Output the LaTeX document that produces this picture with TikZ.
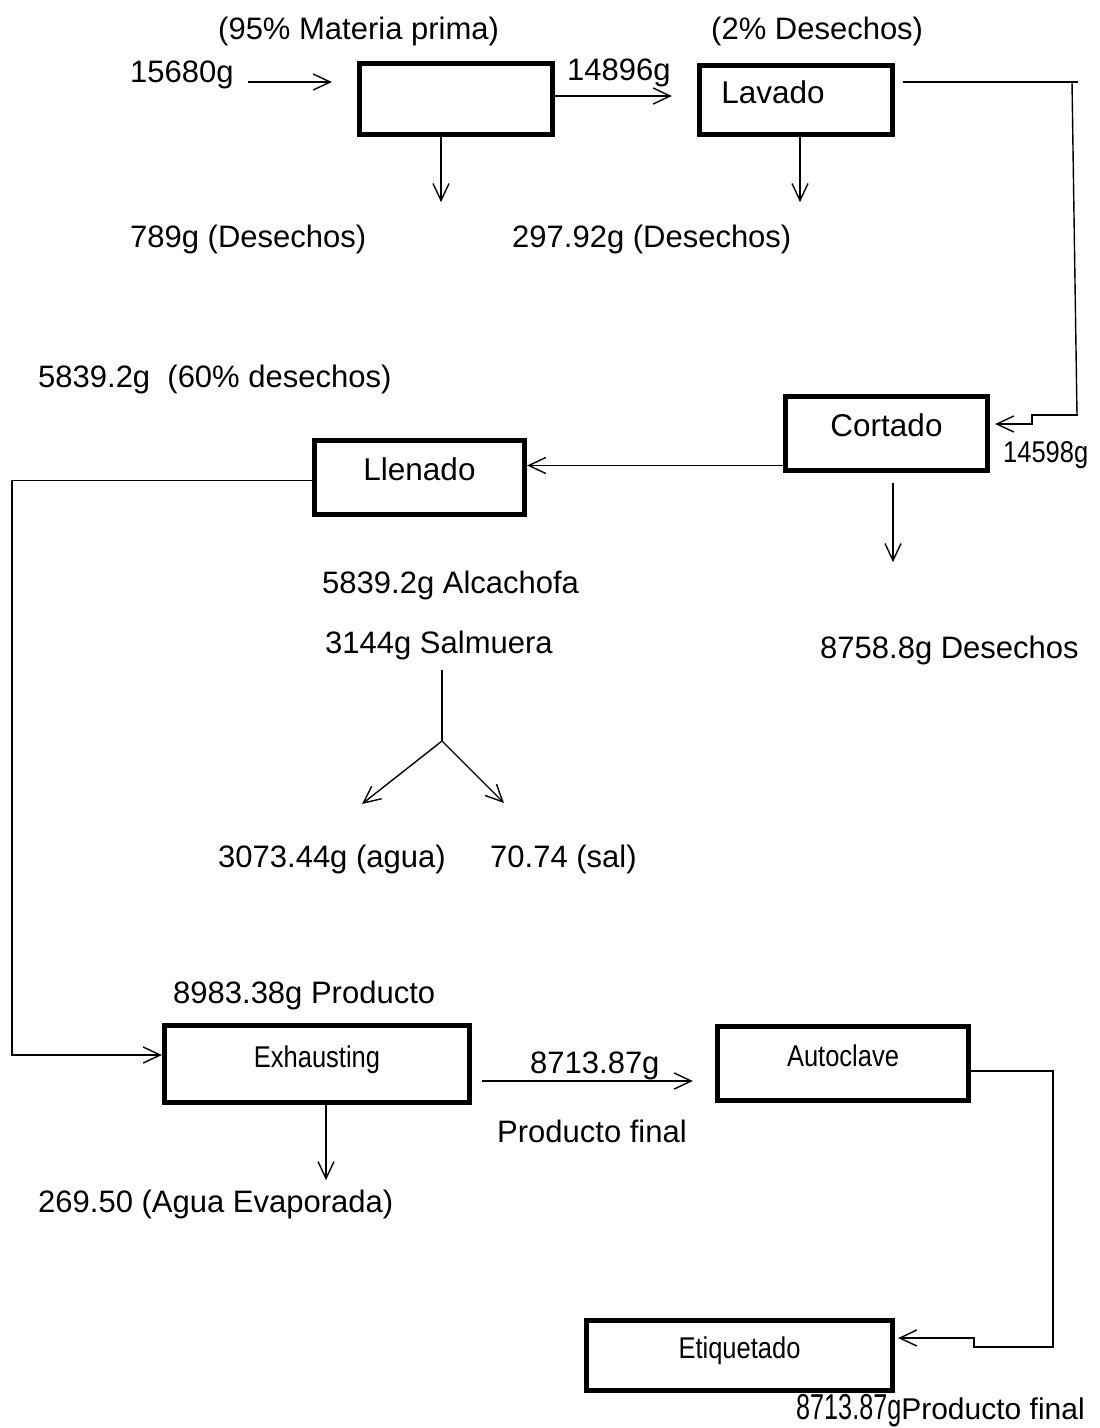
\documentclass[tikz,border=0pt]{standalone}
\usepackage{fontspec}
\setmainfont{Liberation Sans}
\newfontfamily\narrowfont[FakeStretch=0.85]{Liberation Sans}
\newfontfamily\tightfont[FakeStretch=0.7]{Liberation Sans}
\usetikzlibrary{arrows.meta,calc}

\begin{document}
\begin{tikzpicture}[x=1pt,y=-1pt,
  stage/.style={draw,line width=4.8pt,inner sep=0pt,text height=23pt,text depth=17pt,font=\fontsize{31.5}{38}\selectfont},
  stagec/.style={stage,font=\narrowfont\fontsize{30}{34}\selectfont},
  lbl/.style={anchor=base west,inner sep=0pt,font=\fontsize{31}{38}\selectfont},
  arr/.style={-{Straight Barb[length=17pt,width=16pt]},line width=1.4pt},
  ln/.style={line width=1.4pt}
]
  \useasboundingbox (0,0) rectangle (1100,1428);

  % Stages
  \node[stage,minimum width=193.5pt,minimum height=71.5pt] (entrada) at (456,99) {};
  \node[stage,minimum height=69.5pt,text width=149.5pt,inner xsep=22pt,align=left] (lavado) at (796,100) {Lavado};
  \node[stage,minimum width=202.5pt,minimum height=74.5pt] (cortado) at (886.5,433.5) {Cortado};
  \node[stage,minimum width=210.5pt,minimum height=74.5pt] (llenado) at (419.5,477.5) {Llenado};
  \node[stagec,minimum width=305.5pt,minimum height=77.5pt] (exhausting) at (317,1064) {Exhausting};
  \node[stagec,minimum width=251.5pt,minimum height=74.5pt] (autoclave) at (843,1063.5) {Autoclave};
  \node[stagec,minimum width=306.5pt,minimum height=70.5pt] (etiquetado) at (739.5,1355.5) {Etiquetado};

  % Arrows
  \coordinate (in0) at (248,82);
  \draw[arr,shorten >=25pt] (in0) -- (in0 -| entrada.west);
  \coordinate (e1) at ([yshift=3pt]entrada.east);
  \draw[arr,shorten >=25pt] (e1) -- (e1 -| lavado.west);
  \draw[arr] ([xshift=-15pt]entrada.south) -- ++(0,65);
  \draw[arr] ([xshift=4pt]lavado.south) -- ++(0,65);

  \draw[ln] ([xshift=8pt,yshift=18pt]lavado.east) -- (1078,82);
  \draw[ln] (1072,82) -- (1077,415);
  \draw[arr] (1078,415) -- (1032,415) -- (1032,424) -- ([xshift=5pt,yshift=9.5pt]cortado.east);

  \coordinate (c1) at ([yshift=-32pt]cortado.west);
  \draw[arr] (c1) -- (c1 -| llenado.east);
  \draw[arr] ([xshift=6.5pt,yshift=-10pt]cortado.south) -- ++(0,79);

  \draw[arr] ([yshift=-3pt]llenado.west) -- (12,480.5) -- (12,1055) -- ([yshift=9pt]exhausting.west);

  % Salmuera split
  \coordinate (s0) at (442,670);
  \coordinate (s1) at (442,741);
  \coordinate (agua) at (362,804);
  \coordinate (sal) at (504,803);
  \draw[ln] (s0) -- (s1);
  \draw[arr] (s1) -- (agua);
  \draw[arr] (s1) -- (sal);

  \draw[arr] ([xshift=9pt]exhausting.south) -- ++(0,75);
  \coordinate (x1) at ([xshift=10pt,yshift=-17pt]exhausting.east);
  \draw[arr,shorten >=22pt] (x1) -- (x1 -| autoclave.west);
  \draw[arr] ([yshift=-7.5pt]autoclave.east) -- (1053,1071) -- (1053,1347) -- (974,1347) -- (974,1338) -- ([xshift=3pt,yshift=17.5pt]etiquetado.east);

  % Labels
  \node[lbl] (tmp) at (218,39) {(95\% Materia prima)};
  \node[lbl] (tdes2) at (711,39) {(2\% Desechos)};
  \node[lbl] (tin) at (130,82) {15680g};
  \node[lbl] (tlav) at (567,80) {14896g};
  \node[lbl] (tdes1) at (130,247) {789g (Desechos)};
  \node[lbl] (tdes3) at (512,247) {297.92g (Desechos)};
  \node[lbl] (tcor) at (38,387) {5839.2g\ \ (60\% desechos)};
  \node[lbl,font=\narrowfont\fontsize{30}{34}\selectfont] (tcin) at (1003,462) {14598g};
  \node[lbl] (talc) at (322,593) {5839.2g Alcachofa};
  \node[lbl] (tsal) at (325,653) {3144g Salmuera};
  \node[lbl] (tdes4) at (820,658) {8758.8g Desechos};
  \node[lbl] (tagua) at (218,867) {3073.44g (agua)};
  \node[lbl] (tsalm) at (490,867) {70.74 (sal)};
  \node[lbl] (tprod) at (173,1003) {8983.38g Producto};
  \node[lbl] (tevap) at (38,1212) {269.50 (Agua Evaporada)};
  \node[lbl] (tpf) at (530,1073) {8713.87g};
  \node[lbl] (tpf2) at (497,1142) {Producto final};
  \node[lbl] (tfin) at (796,1419) {{\tightfont\fontsize{36}{40}\selectfont 8713.87g}{\fontsize{30}{36}\selectfont Producto final}};
\end{tikzpicture}
\end{document}
